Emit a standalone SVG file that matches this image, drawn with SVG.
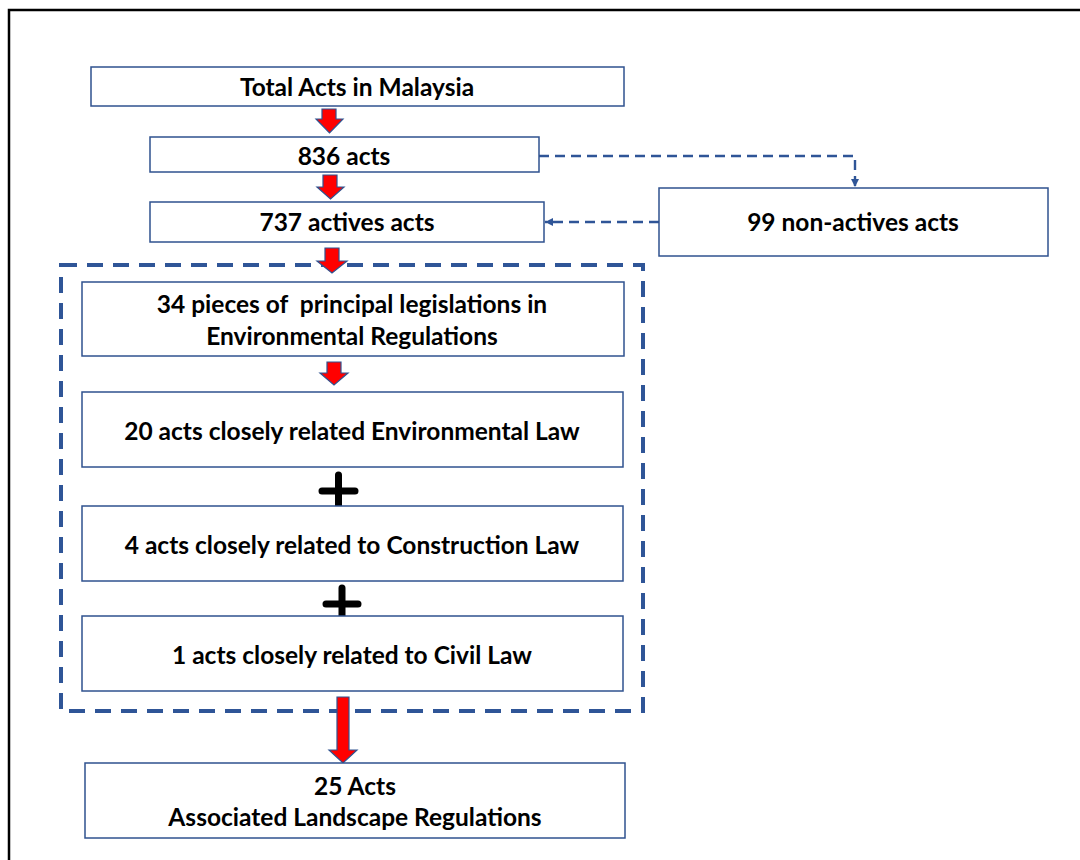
<svg xmlns="http://www.w3.org/2000/svg" width="1080" height="860" viewBox="0 0 1080 860">
<defs>
<style>
.box{fill:#fff;stroke:#2F528F;stroke-width:1.5}
.t{font-family:Lato,"Open Sans","Liberation Sans",sans-serif;font-weight:700;font-size:24.5px;fill:#000;text-anchor:middle;dominant-baseline:central;white-space:pre}
.ra{fill:#FF0000;stroke:#2F528F;stroke-width:1.2;stroke-linejoin:miter}
.dash{fill:none;stroke:#2F5597;stroke-width:2.4;stroke-dasharray:10 6}
.plus{stroke:#000;stroke-width:7;stroke-linecap:round}
</style>
<marker id="ah" viewBox="0 0 10 10" refX="10" refY="5" markerWidth="8" markerHeight="8" orient="auto" markerUnits="userSpaceOnUse">
<path d="M0,0 L10,5 L0,10 z" fill="#2F5597"/>
</marker>
</defs>
<rect width="1080" height="860" fill="#fff"/>
<path d="M9,860 V10 H1080" fill="none" stroke="#000" stroke-width="2.5"/>

<g id="group-frame">
<rect x="61" y="265" width="582" height="446" fill="none" stroke="#2F5597" stroke-width="4" stroke-dasharray="16 10"/>
</g>

<g id="connectors">
<path class="ra" d="M322,109 H336 V119 H343 L329.5,133 L316,119 H322 Z"/>
<path class="ra" d="M323,175 H337 V187 H344 L330.5,199 L317,187 H323 Z"/>
<path class="ra" d="M325,248 H339 V261 H347 L332,273 L317,261 H325 Z"/>
<path class="ra" d="M327,362 H341 V373 H348 L334,385 L320,373 H327 Z"/>
<path class="ra" d="M337,697 H349 V750 H357 L343,763 L329,750 H337 Z"/>
<path class="dash" d="M539,156 H855 V187" marker-end="url(#ah)"/>
<path class="dash" d="M659,222 H545" marker-end="url(#ah)"/>
<path class="plus" d="M322,491 H355 M338.5,475 V506"/>
<path class="plus" d="M326,604 H358 M342,588 V619"/>
</g>

<g id="n-total"><rect class="box" x="91" y="67" width="533" height="39"/><text class="t" x="357" y="86">Total Acts in Malaysia</text></g>
<g id="n-836"><rect class="box" x="150" y="137" width="389" height="35"/><text class="t" x="344" y="155">836 acts</text></g>
<g id="n-737"><rect class="box" x="150" y="202" width="394" height="40"/><text class="t" x="347" y="221">737 actives acts</text></g>
<g id="n-99"><rect class="box" x="659" y="188" width="389" height="68"/><text class="t" x="853" y="221">99 non-actives acts</text></g>
<g id="n-34"><rect class="box" x="82" y="282" width="542" height="74"/><text class="t" x="352" y="303" xml:space="preserve">34 pieces of  principal legislations in</text><text class="t" x="352" y="335">Environmental Regulations</text></g>
<g id="n-20"><rect class="box" x="82" y="392" width="541" height="75"/><text class="t" x="352" y="430">20 acts closely related Environmental Law</text></g>
<g id="n-4"><rect class="box" x="82" y="506" width="541" height="75"/><text class="t" x="352" y="544">4 acts closely related to Construction Law</text></g>
<g id="n-1"><rect class="box" x="82" y="616" width="541" height="75"/><text class="t" x="352" y="654">1 acts closely related to Civil Law</text></g>
<g id="n-25"><rect class="box" x="85" y="763" width="540" height="75"/><text class="t" x="355" y="785">25 Acts</text><text class="t" x="355" y="816">Associated Landscape Regulations</text></g>
</svg>
